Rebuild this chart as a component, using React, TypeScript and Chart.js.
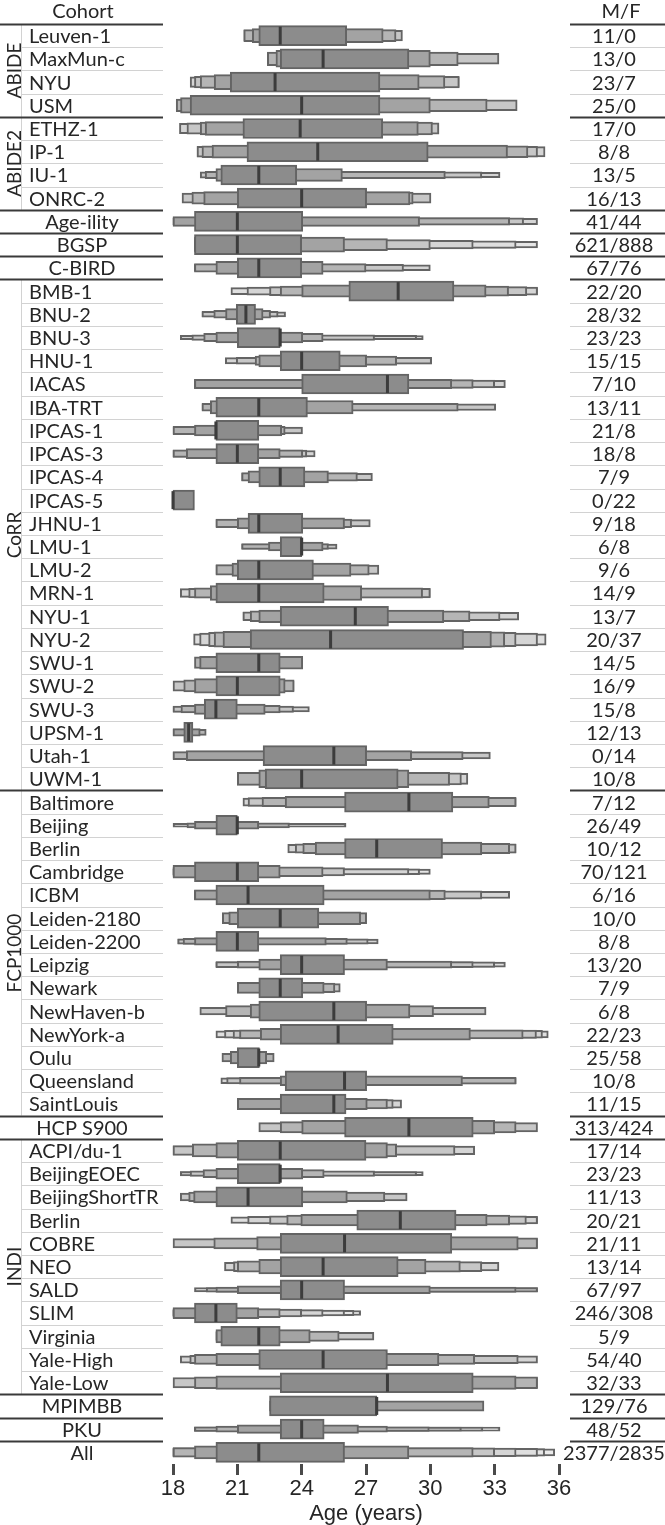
import React, { useEffect, useRef } from 'react';
import { Chart, registerables } from 'chart.js';

Chart.register(...registerables);

// ---------------- data ----------------
const cohorts: string[] = [
  'Leuven-1', 'MaxMun-c', 'NYU', 'USM',
  'ETHZ-1', 'IP-1', 'IU-1', 'ONRC-2',
  'Age-ility', 'BGSP', 'C-BIRD',
  'BMB-1', 'BNU-2', 'BNU-3', 'HNU-1', 'IACAS', 'IBA-TRT', 'IPCAS-1', 'IPCAS-3', 'IPCAS-4', 'IPCAS-5',
  'JHNU-1', 'LMU-1', 'LMU-2', 'MRN-1', 'NYU-1', 'NYU-2', 'SWU-1', 'SWU-2', 'SWU-3', 'UPSM-1', 'Utah-1', 'UWM-1',
  'Baltimore', 'Beijing', 'Berlin', 'Cambridge', 'ICBM', 'Leiden-2180', 'Leiden-2200', 'Leipzig', 'Newark',
  'NewHaven-b', 'NewYork-a', 'Oulu', 'Queensland', 'SaintLouis',
  'HCP S900',
  'ACPI/du-1', 'BeijingEOEC', 'BeijingShortTR', 'Berlin', 'COBRE', 'NEO', 'SALD', 'SLIM', 'Virginia', 'Yale-High', 'Yale-Low',
  'MPIMBB', 'PKU', 'All',
];

const groupNames: string[] = ['ABIDE', 'ABIDE2', '', '', '', 'CoRR', 'FCP1000', '', 'INDI', '', '', ''];
const groupSizes: number[] = [4, 4, 1, 1, 1, 22, 14, 1, 11, 1, 1, 1];

const sexCounts: string[] = [
  '11/0', '13/0', '23/7', '25/0',
  '17/0', '8/8', '13/5', '16/13',
  '41/44', '621/888', '67/76',
  '22/20', '28/32', '23/23', '15/15', '7/10', '13/11', '21/8', '18/8', '7/9', '0/22',
  '9/18', '6/8', '9/6', '14/9', '13/7', '20/37', '14/5', '16/9', '15/8', '12/13', '0/14', '10/8',
  '7/12', '26/49', '10/12', '70/121', '6/16', '10/0', '8/8', '13/20', '7/9',
  '6/8', '22/23', '25/58', '10/8', '11/15',
  '313/424',
  '17/14', '23/23', '11/13', '20/21', '21/11', '13/14', '67/97', '246/308', '5/9', '54/40', '32/33',
  '129/76', '48/52', '2377/2835',
];

const medians: number[] = [
  23, 25, 22.76, 24,
  23.93, 24.75, 22, 24,
  21, 21, 22,
  28.5, 21.4, 23, 24, 28, 22, 20, 21, 23, 18,
  22, 24, 22, 22, 26.5, 25.35, 22, 21, 20, 18.73, 25.5, 24,
  29, 21, 27.5, 21, 21.5, 23, 21, 24, 23,
  25.5, 25.7, 22, 26, 25.5,
  29,
  23, 23, 21.5, 28.6, 26, 25, 24, 20, 22, 25, 28,
  27.5, 24, 22,
];

// letter-value box edges, innermost level first
const lowerEdges: number[][] = [
  [22, 21.7, 21.3, 21.3],
  [23, 22.8, 22.4, 22.4],
  [20.67, 19.92, 19.27, 19.0, 18.8],
  [18.8, 18.35, 18.15, 18.15],
  [21.26, 19.5, 19.27, 18.65, 18.3],
  [21.45, 19.82, 19.35, 19.12, 19.12],
  [20.23, 20.0, 19.5, 19.27, 19.27],
  [21, 19.43, 18.88, 18.42],
  [19, 18, 18, 18, 18],
  [19, 19, 19, 19, 19, 19, 19],
  [21, 20, 19, 19, 19],
  [26.2, 24, 23, 22.5, 21.45, 20.7],
  [20.95, 20.45, 19.9, 19.35, 19.35],
  [21, 20, 19.43, 18.88, 18.34, 18.34],
  [23, 22, 21.83, 20.95, 20.44],
  [24, 19, 19, 19, 19],
  [20, 19.74, 19.35, 19.35],
  [20, 19, 18, 18],
  [20, 18.62, 18, 18, 18],
  [22, 21.5, 21.2, 21.2],
  [18],
  [21.5, 21, 20, 20],
  [23, 22.45, 21.2, 21.2],
  [21, 20.75, 20, 20],
  [20, 19.74, 19, 18.73, 18.34],
  [23, 22, 21.6, 21.26, 21.26],
  [21.6, 20.33, 19.92, 19.66, 19.24, 18.96],
  [20, 19.24, 19],
  [20, 19, 18.5, 18],
  [19.46, 19, 18.37, 18, 18],
  [18.5, 18, 18],
  [22.2, 18.62, 18, 18],
  [22.3, 22, 21, 21, 21],
  [26, 23.23, 22.15, 21.5, 21.26],
  [20, 19, 18.65, 18],
  [26, 24.63, 24.05, 23.7, 23.35],
  [19, 18, 18, 18, 18, 18, 18],
  [20, 19, 19, 19, 19],
  [21, 20.6, 20.3],
  [20, 19, 18.47, 18.22, 18.22],
  [23, 22, 21, 20, 20, 20],
  [22, 21, 21, 21],
  [22, 21.6, 20.45, 19.25],
  [23, 22.07, 21.1, 20.8, 20.4, 20],
  [21, 20.67, 20.28],
  [23.23, 23, 21.1, 20.5, 20.23],
  [23, 21, 21, 21, 21],
  [26, 24, 23, 22],
  [21, 20, 18.9, 18, 18],
  [21, 20, 19.4, 18.8, 18.34, 18.34],
  [20, 18.96, 18.73, 18.34],
  [26.57, 23.96, 23.3, 22.5, 21.48, 20.7],
  [23, 21.9, 19.9, 18],
  [23, 22, 21, 20.82, 20.4],
  [23, 21, 20, 19.55, 19],
  [19, 18, 18, 18, 18, 18, 18, 18],
  [20.23, 20, 20, 20],
  [22, 20, 19, 18.78, 18.34],
  [23, 20, 19, 18],
  [22.5, 22.5],
  [23, 21, 20, 19, 19, 19, 19],
  [20, 19, 18, 18, 18, 18, 18, 18],
];

const upperEdges: number[][] = [
  [26.1, 27.8, 28.4, 28.7],
  [29, 30, 31.3, 33.2],
  [27.65, 29.48, 30.68, 31.35, 31.35],
  [27.65, 30, 32.65, 34.05],
  [27.78, 29.44, 30.1, 30.4, 30.4],
  [29.9, 33.6, 34.55, 35.0, 35.35],
  [23.77, 25.9, 30.7, 32.4, 33.25],
  [27.03, 29.05, 29.2, 30.03],
  [24.05, 29.5, 33.7, 34.35, 35],
  [24, 26, 28, 30, 32, 34, 35],
  [24, 25, 27, 28.75, 30],
  [31.1, 32.6, 33.65, 34.5, 35, 35],
  [21.85, 22.2, 22.55, 22.9, 23.25],
  [23, 24.05, 25, 27.4, 29.36, 29.67],
  [25.8, 27.03, 28.43, 30.06, 30.06],
  [29, 31, 32, 33, 33.5],
  [24.27, 26.4, 31.3, 33.05],
  [22, 23.07, 23.23, 24.04],
  [22, 23, 24.05, 24.24, 24.63],
  [24.15, 25.25, 26.6, 27.3],
  [19],
  [24.05, 26, 26.33, 27.2],
  [24, 25, 25.25, 25.65],
  [24.55, 26.3, 27.15, 27.6],
  [25.05, 26.8, 29.64, 30, 30],
  [28.05, 30.63, 31.85, 33.25, 34.12],
  [31.55, 32.85, 33.47, 34, 35, 35.4],
  [23, 24.05, 24.05],
  [23, 23.23, 23.65, 23.65],
  [21, 22.3, 23, 23.62, 24.36],
  [18.93, 19.27, 19.55],
  [27.03, 29.13, 31.53, 32.8],
  [28.5, 29, 30.9, 31.45, 31.75],
  [31.05, 32.75, 34, 34, 34],
  [21, 22, 23.43, 26.07],
  [30.57, 32.4, 33.7, 34, 34],
  [22, 23, 25, 26, 29, 29.5, 30],
  [25.05, 30, 30.7, 32.4, 33.7],
  [24.8, 26.75, 27.03],
  [22, 25.15, 26.13, 27.1, 27.57],
  [26, 28, 31, 32, 33, 33.5],
  [24.05, 25.05, 25.55, 25.8],
  [27.03, 29.05, 30.15, 32.6],
  [28.27, 31.87, 34.33, 34.95, 35.23, 35.5],
  [22.03, 22.37, 22.72],
  [27.03, 31.5, 34, 34, 34],
  [26.07, 27.06, 28, 28.27, 28.66],
  [32, 33, 34, 35],
  [27, 28, 28.43, 31.15, 32.07],
  [23, 24.05, 25.05, 27.4, 29.36, 29.67],
  [24.05, 26.13, 27.88, 28.92],
  [31.2, 32.65, 33.7, 34.48, 35, 35],
  [31, 34.1, 35, 35],
  [28.5, 29.8, 31.4, 32.4, 33.2],
  [26, 30, 34, 35, 35],
  [21, 22, 23, 24, 25, 26, 26.44, 26.75],
  [23, 24.4, 25.75, 27.37],
  [28, 30.4, 32.07, 34.1, 35],
  [32, 34, 35, 35],
  [27.5, 32.5],
  [25.05, 26.65, 28, 29.95, 31.45, 32.45, 33.25],
  [26, 29, 32, 33, 34, 35, 35.33, 35.8],
];

const xTicksMin = 18;
const xTicksMax = 36;
const xTickStep = 3;
const xTitle = 'Age (years)';

// ---------------- styles ----------------
const W = 665;
const H = 1525;
const BOX = 20;
const levelColors = ['#8c8c8c', '#a3a3a3', '#b5b5b5', '#c7c7c7', '#d5d5d5', '#dfdfdf', '#e6e6e6', '#ebebeb'];
const EDGE = '#646464';
const TEXT = '#262626';
const TABLE_FONT = 'Lato, "Open Sans", sans-serif';
const AXIS_FONT = '"Liberation Sans", Arial, sans-serif';

// box heights: area-proportional letter-value widths
function boxThickness(lo: number[], hi: number[]): number[] {
  const K = lo.length;
  const raw = lo.map((l, j) => (1 - Math.pow(2, j + 1 - K - 3)) / Math.pow(Math.max(hi[j] - l, 0.05), 0.85));
  const m = Math.max(...raw);
  return raw.map((r) => Math.min(BOX, Math.max(4, (BOX * r) / m)));
}

const tablePlugin = {
  id: 'cohortTable',
  afterDraw(chart: any) {
    const ctx: CanvasRenderingContext2D = chart.ctx;
    const yScale = chart.scales.y;
    const { top, bottom } = chart.chartArea;
    const N = cohorts.length;
    const rowH = (bottom - top) / N;
    const edge = (r: number) => top + r * rowH;
    const hline = (y: number, x1: number, x2: number, color: string, w: number) => {
      ctx.beginPath();
      ctx.strokeStyle = color;
      ctx.lineWidth = w;
      ctx.moveTo(x1, y);
      ctx.lineTo(x2, y);
      ctx.stroke();
    };
    ctx.save();
    ctx.fillStyle = TEXT;
    ctx.textBaseline = 'middle';
    ctx.font = `20px ${TABLE_FONT}`;
    ctx.textAlign = 'center';
    ctx.fillText('Cohort', 83, 12);
    ctx.fillText('M/F', 621, 12);

    let r0 = 0;
    groupSizes.forEach((size, g) => {
      const yTop = Math.round(edge(r0)) + 0.5;
      for (let k = 1; k < size; k++) {
        const yy = Math.round(edge(r0 + k)) + 0.5;
        hline(yy, 22, 163, '#d2d2d2', 1);
        hline(yy, 570, 665, '#d2d2d2', 1);
      }
      if (groupNames[g]) {
        ctx.beginPath();
        ctx.strokeStyle = '#d2d2d2';
        ctx.lineWidth = 1;
        ctx.moveTo(21.5, edge(r0));
        ctx.lineTo(21.5, edge(r0 + size));
        ctx.stroke();
        ctx.save();
        ctx.translate(14, (edge(r0) + edge(r0 + size)) / 2);
        ctx.rotate(-Math.PI / 2);
        ctx.font = `19px ${TABLE_FONT}`;
        ctx.textAlign = 'center';
        ctx.fillStyle = TEXT;
        ctx.fillText(groupNames[g], 0, 1);
        ctx.restore();
      }
      hline(yTop, 0, 163, '#3a3a3a', 1.8);
      hline(yTop, 570, 665, '#3a3a3a', 1.8);
      for (let k = 0; k < size; k++) {
        const r = r0 + k;
        const yc = yScale.getPixelForValue(r) + 1;
        ctx.font = `20px ${TABLE_FONT}`;
        ctx.fillStyle = TEXT;
        if (groupNames[g]) {
          ctx.textAlign = 'left';
          ctx.fillText(cohorts[r], 29, yc);
        } else {
          ctx.textAlign = 'center';
          ctx.fillText(cohorts[r], 82, yc);
        }
        ctx.textAlign = 'center';
        ctx.fillText(sexCounts[r], 614, yc);
      }
      r0 += size;
    });
    ctx.restore();
  },
};

export default function App() {
  const ref = useRef<HTMLCanvasElement | null>(null);

  useEffect(() => {
    if (!ref.current) return;
    const N = cohorts.length;
    const datasets: any[] = [];
    const thick = cohorts.map((_, r) => boxThickness(lowerEdges[r], upperEdges[r]));
    const maxK = Math.max(...lowerEdges.map((a) => a.length));
    for (let j = 0; j < maxK; j++) {
      for (let r = 0; r < N; r++) {
        if (j >= lowerEdges[r].length) continue;
        const data: any[] = new Array(N).fill(null);
        data[r] = [lowerEdges[r][j], upperEdges[r][j]];
        datasets.push({
          type: 'bar',
          data,
          barThickness: thick[r][j],
          backgroundColor: levelColors[Math.min(j, levelColors.length - 1)],
          borderColor: EDGE,
          borderWidth: 2,
          borderSkipped: false,
          grouped: false,
          order: j + 1,
          clip: false,
        });
      }
    }
    datasets.push({
      type: 'line',
      data: medians,
      showLine: false,
      pointStyle: 'line',
      pointRadius: 9,
      pointHoverRadius: 9,
      pointRotation: 90,
      pointBorderWidth: 3,
      pointBorderColor: '#3c3c3c',
      pointBackgroundColor: '#3c3c3c',
      order: 0,
      clip: false,
    });

    const chart = new Chart(ref.current, {
      type: 'bar',
      data: { labels: cohorts, datasets },
      options: {
        indexAxis: 'y',
        animation: false,
        responsive: false,
        maintainAspectRatio: false,
        devicePixelRatio: 1,
        events: [],
        layout: { padding: { left: 173, right: 106, top: 24, bottom: 0 } },
        plugins: { legend: { display: false }, tooltip: { enabled: false }, title: { display: false } },
        scales: {
          x: {
            type: 'linear',
            min: xTicksMin,
            max: xTicksMax,
            ticks: {
              stepSize: xTickStep,
              autoSkip: false,
              maxRotation: 0,
              padding: 3,
              color: TEXT,
              font: { family: AXIS_FONT, size: 22, lineHeight: 1 },
            },
            grid: {
              drawOnChartArea: false,
              drawTicks: true,
              tickLength: 11,
              tickWidth: 3,
              tickColor: '#4a4a4a',
            },
            border: { display: false },
            title: {
              display: true,
              text: xTitle,
              color: TEXT,
              padding: 0,
              font: { family: AXIS_FONT, size: 22, lineHeight: 1 },
            },
          },
          y: { type: 'category', display: false, offset: true },
        },
      } as any,
      plugins: [tablePlugin],
    } as any);
    return () => chart.destroy();
  }, []);

  return (
    <div style={{ position: 'absolute', left: 0, top: 0, width: W, height: H, background: '#fff' }}>
      <canvas ref={ref} width={W} height={H} style={{ width: W, height: H, display: 'block' }} />
    </div>
  );
}
